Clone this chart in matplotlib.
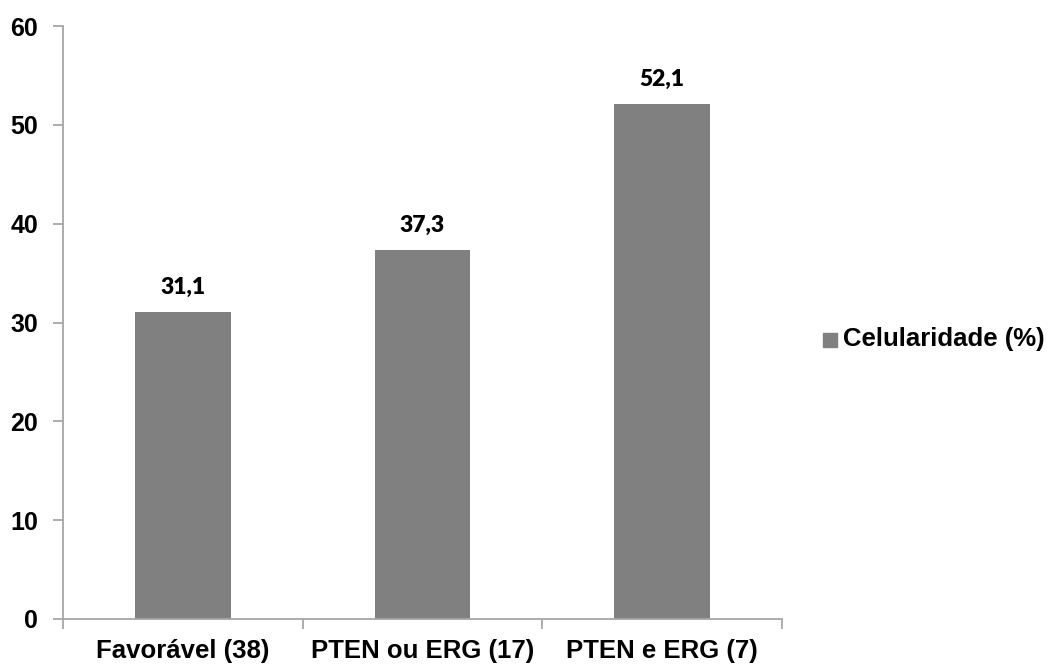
import matplotlib
matplotlib.use("Agg")
import matplotlib.pyplot as plt
from matplotlib.patches import Rectangle

categories = ["Favorável (38)", "PTEN ou ERG (17)", "PTEN e ERG (7)"]
values = [31.1, 37.3, 52.1]
value_labels = ["31,1", "37,3", "52,1"]
series_name = "Celularidade (%)"
y_ticks = [0, 10, 20, 30, 40, 50, 60]

bar_color = "#808080"
axis_color = "#A6A6A6"
label_font = "Liberation Sans"

fig = plt.figure(figsize=(10.56, 6.64), dpi=100)
ax = fig.add_axes([63 / 1056, 1 - 619 / 664, (782 - 63) / 1056, (619 - 26) / 664])

x = list(range(len(categories)))
bars = ax.bar(x, values, width=0.4, color=bar_color, zorder=2)

ax.set_xlim(-0.5, len(categories) - 0.5)
ax.set_ylim(0, 60)
ax.set_yticks(y_ticks)
ax.set_yticklabels([str(t) for t in y_ticks], fontfamily=label_font,
                   fontweight="bold", fontsize=18)

# tick marks sit between categories; names are centred under each bar
ax.set_xticks([i - 0.5 for i in range(len(categories) + 1)])
ax.set_xticklabels([])
ax.tick_params(axis="x", direction="out", length=7, width=1.3, color=axis_color)
ax.tick_params(axis="y", direction="out", length=7, width=1.3, color=axis_color, pad=11)
for i, lab in enumerate(categories):
    ax.text(i, -3.95, lab, ha="center", va="baseline", fontfamily=label_font,
            fontweight="bold", fontsize=18.5)

for s in ["top", "right"]:
    ax.spines[s].set_visible(False)
for s in ["left", "bottom"]:
    ax.spines[s].set_color(axis_color)
    ax.spines[s].set_linewidth(1.3)

# value labels above bars
for rect, lab in zip(bars, value_labels):
    ax.annotate(lab, (rect.get_x() + rect.get_width() / 2, rect.get_height()),
                xytext=(0, 13), textcoords="offset points", ha="center", va="baseline",
                fontfamily="Lato", fontweight="heavy", fontsize=16.5)

# legend: square swatch with series name
fig.patches.append(Rectangle((823 / 1056, 1 - 347 / 664), 14 / 1056, 14 / 664,
                             transform=fig.transFigure, color=bar_color))
fig.text(843 / 1056, 1 - 346 / 664, series_name, ha="left", va="baseline",
         fontfamily=label_font, fontweight="bold", fontsize=18.5)

fig.savefig("out.png", dpi=100)
